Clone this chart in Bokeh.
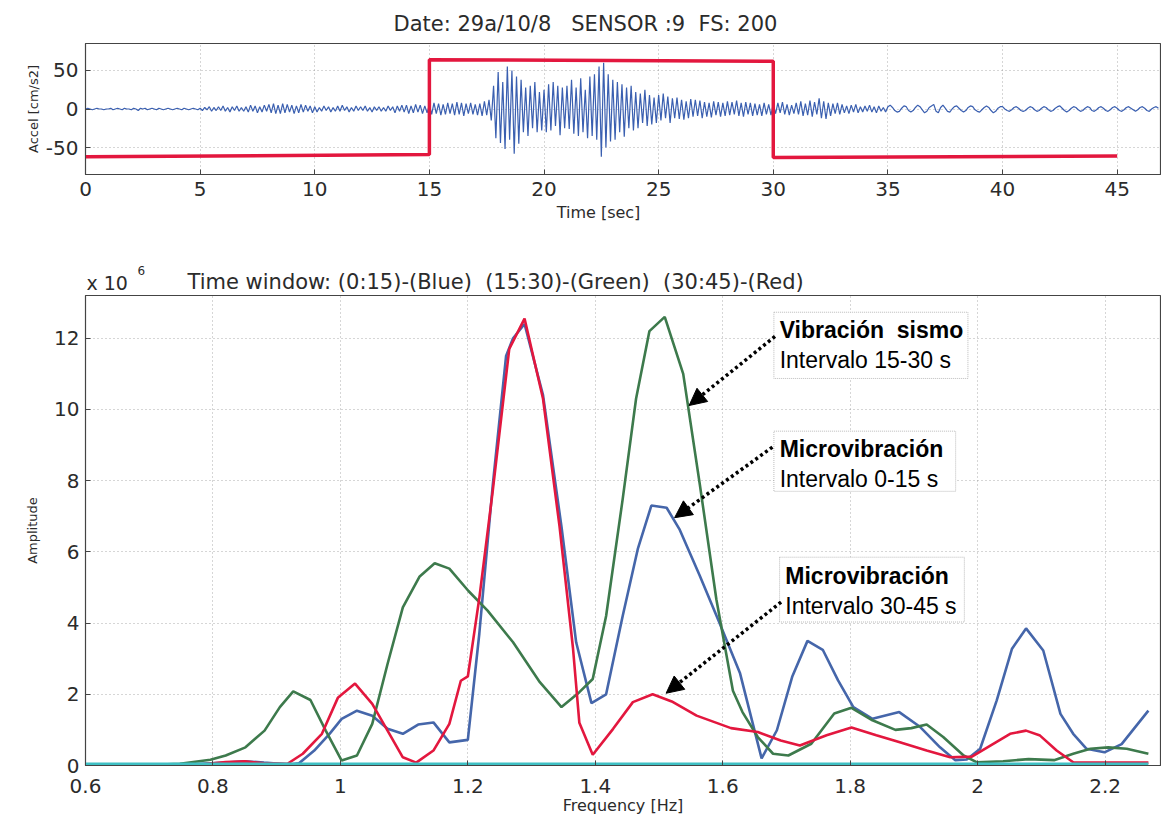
import numpy as np
from bokeh.plotting import figure
from bokeh.models import (Range1d, FixedTicker, Label, BoxAnnotation, Arrow, NormalHead)
from bokeh.layouts import column
from bokeh.embed import file_html
from bokeh.resources import INLINE

# ---------------- top panel: acceleration record (sampled every 0.1 s) ----------------
dt = 0.1
accel = [
    0, 1, 0, -1, 0, 1, 0, 0, -1, 0,
    0, 1, -1, 0, 1, 0, -1, 1, 0, 0,
    -1, 1, 0, -2, 1, 0, 1, -1, 0, 1,
    0, -1, 1, 0, -1, 0, 1, 0, -1, 0,
    1, 0, -1, 1, 0, -1, 0, 1, 0, -1,
    1, -2, 2, -1, 3, -3, 2, -2, 3, -2,
    4, -3, 2, -4, 3, -2, 4, -3, 2, -3,
    3, -4, 5, -3, 4, -5, 3, -4, 5, -3,
    6, -5, 7, -6, 5, -6, 7, -5, 6, -4,
    5, -6, 4, -5, 6, -4, 5, -3, 4, -5,
    3, -4, 2, -3, 4, -2, 3, -4, 2, -3,
    4, -3, 5, -2, 3, -4, 2, -3, 4, -2,
    3, -2, 4, -3, 2, -4, 3, -2, 3, -3,
    2, -3, 4, -2, 3, -5, 4, -3, 5, -4,
    5, -6, 4, -5, 6, -4, 5, -6, 4, -5,
    6, -7, 8, -6, 7, -8, 6, -7, 8, -6,
    7, -8, 9, -7, 8, -9, 7, -6, 8, -7,
    6, -8, 7, -9, 10, -8, 12, -15, 30, -38,
    48, -44, 35, -52, 55, -40, 50, -58, 42, -45,
    38, -30, 28, -35, 30, -25, 35, -30, 22, -28,
    25, -30, 32, -28, 35, -22, 30, -34, 28, -25,
    30, -26, 38, -32, 28, -35, 40, -30, 25, -38,
    42, -35, 45, -40, 55, -62, 60, -50, 45, -42,
    38, -40, 35, -30, 32, -36, 28, -25, 30, -28,
    22, -25, 20, -18, 25, -22, 18, -20, 15, -18,
    18, -15, 20, -12, 16, -18, 14, -12, 15, -13,
    12, -14, 10, -12, 13, -10, 12, -9, 11, -12,
    9, -10, 8, -11, 10, -8, 9, -10, 8, -9,
    10, -8, 9, -7, 11, -9, 8, -10, 9, -7,
    8, -9, 7, -8, 6, -9, 8, -7, 6, -8,
    7, -6, 8, -5, 9, -7, 6, -8, 5, -6,
    8, -7, 10, -9, 7, -8, 11, -10, 9, -7,
    14, -12, 10, -13, 8, -9, 7, -6, 8, -7,
    6, -5, 4, -6, 5, -4, 6, -5, 3, -4,
    4, -3, 5, -4, 3, -5, 4, -3, 2, -4,
    3, 5, 2, -2, -4, -3, 1, 4, 3, -2,
    -4, -2, 2, 5, 3, -1, -5, -3, 2, 4,
    6, -3, -5, 2, 5, 1, -3, -4, 0, 3,
    4, 1, -2, -4, -2, 2, 4, 3, -1, -3,
    -4, -1, 2, 4, 2, -2, -5, -3, 1, 3,
    3, 0, -2, -3, -1, 2, 3, 1, -2, -3,
    -2, 1, 3, 2, -1, -3, -2, 1, 3, 2,
    -1, -3, -2, 1, 3, 4, 1, -2, -4, -2,
    1, 3, 2, -1, -3, -2, 1, 3, 2, -2,
    -3, -1, 2, 3, 1, -2, -3, -1, 2, 3,
    1, -2, -3, -1, 2, 3, 1, -1, -3, -1,
    2, 3, 1, -2, -3, 0, 2, 3, 1,
]
time_s = np.arange(len(accel)) * dt

# time-window marker (red)
win_t = [0, 15, 15, 30, 30, 45]
win_v = [-62, -59, 64, 62, -63, -61]

time_ticks = [0, 5, 10, 15, 20, 25, 30, 35, 40, 45]
accel_ticks = [-50, 0, 50]
accel_labels = ["-50", "0", "50"]

# ---------------- bottom panel: amplitude spectra (x 10^6) ----------------
blue_f = [0.60, 0.75, 0.82, 0.85, 0.88, 0.92, 0.935, 0.959, 0.983, 1.002, 1.026, 1.05,
          1.074, 1.098, 1.122, 1.146, 1.171, 1.2, 1.218, 1.239, 1.26, 1.271, 1.289,
          1.318, 1.347, 1.37, 1.394, 1.417, 1.443, 1.467, 1.488, 1.512, 1.532, 1.564,
          1.595, 1.627, 1.661, 1.685, 1.709, 1.733, 1.757, 1.781, 1.805, 1.835, 1.877,
          1.91, 1.941, 1.965, 1.983, 2.004, 2.03, 2.054, 2.076, 2.103, 2.13, 2.15,
          2.171, 2.199, 2.226, 2.268]
blue_a = [0.02, 0.02, 0.08, 0.12, 0.08, 0.03, 0.06, 0.42, 0.89, 1.31, 1.54, 1.40,
          1.03, 0.89, 1.15, 1.21, 0.65, 0.72, 3.7, 7.85, 11.5, 12.0, 12.4,
          10.4, 6.7, 3.46, 1.75, 2.0, 4.2, 6.1, 7.3, 7.24, 6.64, 5.33,
          4.0, 2.6, 0.2, 0.99, 2.49, 3.5, 3.25, 2.39, 1.64, 1.31, 1.5,
          1.08, 0.51, 0.15, 0.17, 0.47, 1.83, 3.28, 3.85, 3.23, 1.45, 0.89,
          0.47, 0.37, 0.6, 1.54]

green_f = [0.60, 0.70, 0.748, 0.796, 0.82, 0.851, 0.881, 0.905, 0.926, 0.953, 0.977,
           1.002, 1.026, 1.05, 1.074, 1.098, 1.124, 1.148, 1.171, 1.201, 1.231, 1.271,
           1.313, 1.347, 1.375, 1.396, 1.417, 1.443, 1.464, 1.485, 1.509, 1.538, 1.564,
           1.59, 1.616, 1.631, 1.655, 1.679, 1.703, 1.739, 1.775, 1.802, 1.835, 1.871,
           1.896, 1.92, 1.946, 1.978, 1.999, 2.04, 2.08, 2.12, 2.15, 2.177, 2.205,
           2.234, 2.268]
green_a = [0.01, 0.01, 0.05, 0.16, 0.28, 0.51, 0.98, 1.64, 2.08, 1.84, 0.98,
           0.14, 0.28, 1.17, 2.85, 4.44, 5.3, 5.68, 5.53, 4.9, 4.35, 3.46,
           2.34, 1.64, 2.06, 2.43, 4.2, 7.48, 10.3, 12.2, 12.6, 11.0, 7.9,
           4.67, 2.1, 1.5, 0.8, 0.33, 0.28, 0.61, 1.46, 1.62, 1.27, 1.0,
           1.05, 1.15, 0.8, 0.28, 0.09, 0.12, 0.18, 0.15, 0.33, 0.47, 0.51,
           0.47, 0.33]

red_f = [0.60, 0.78, 0.82, 0.85, 0.88, 0.917, 0.941, 0.971, 0.996, 1.023, 1.05, 1.074,
         1.098, 1.119, 1.146, 1.171, 1.189, 1.2, 1.218, 1.239, 1.265, 1.289, 1.318,
         1.344, 1.365, 1.375, 1.396, 1.428, 1.459, 1.49, 1.52, 1.559, 1.613, 1.655,
         1.691, 1.721, 1.763, 1.802, 1.841, 1.878, 1.92, 1.957, 1.991, 2.02, 2.051,
         2.076, 2.098, 2.124, 2.15, 2.2, 2.268]
red_a = [0.01, 0.03, 0.1, 0.12, 0.06, 0.05, 0.33, 0.89, 1.9, 2.3, 1.73, 0.98,
         0.23, 0.08, 0.42, 1.17, 2.38, 2.5, 4.7, 7.7, 11.7, 12.55, 10.3,
         6.7, 3.3, 1.2, 0.3, 1.03, 1.78, 2.0, 1.8, 1.4, 1.05, 0.94,
         0.7, 0.56, 0.85, 1.07, 0.85, 0.65, 0.42, 0.23, 0.25, 0.56, 0.89,
         0.98, 0.84, 0.42, 0.09, 0.08, 0.08]

cyan_f = [0.60, 1.0, 1.4, 1.8, 2.268]
cyan_a = [0.04, 0.04, 0.04, 0.04, 0.04]

freq_ticks = [0.6, 0.8, 1, 1.2, 1.4, 1.6, 1.8, 2, 2.2]
freq_labels = ["0.6", "0.8", "1", "1.2", "1.4", "1.6", "1.8", "2", "2.2"]
amp_ticks = [0, 2, 4, 6, 8, 10, 12]

# ---------------- styling helpers ----------------
MFONT = "DejaVu Sans"
TXT = "#2b2b2b"
W = 1161
LB = 85      # common left border (column aligns frames)
RB = 1
NB = "\u00a0"


def style(p, xt, yt):
    p.background_fill_color = "white"
    p.border_fill_color = "white"
    p.outline_line_color = "#444444"
    p.outline_line_width = 1.2
    for ax in (p.xaxis[0], p.yaxis[0]):
        ax.major_tick_in = 5
        ax.major_tick_out = 0
        ax.minor_tick_line_color = None
        ax.axis_line_color = "#444444"
        ax.major_tick_line_color = "#444444"
        ax.major_label_text_font = MFONT
        ax.major_label_text_font_size = "20px"
        ax.major_label_text_color = TXT
        ax.axis_label_text_font = MFONT
        ax.axis_label_text_font_style = "normal"
        ax.axis_label_text_color = TXT
    p.xaxis[0].ticker = FixedTicker(ticks=xt)
    p.yaxis[0].ticker = FixedTicker(ticks=yt)
    p.grid.grid_line_color = "#8a8a8a"
    p.grid.grid_line_alpha = 0.7
    p.grid.grid_line_dash = "1 3"
    p.grid.grid_line_width = 1


def text_row(h):
    # x data == page pixel (frame spans LB .. W-RB)
    t = figure(width=W, height=h, output_backend="svg", toolbar_location=None,
               x_range=Range1d(LB, W - RB), y_range=Range1d(0, h),
               x_axis_type=None, y_axis_type=None,
               min_border_left=LB, min_border_right=RB, min_border_top=0,
               min_border_bottom=0)
    t.outline_line_color = None
    t.grid.visible = False
    t.background_fill_color = "white"
    t.border_fill_color = "white"
    return t


# ---------------- row 1: top title ----------------
row1 = text_row(41)
row1.add_layout(Label(x=393, y=18,
                      text="Date: 29a/10/8" + NB + NB + " SENSOR :9" + NB + " FS: 200",
                      text_align="left", text_baseline="middle",
                      text_font=MFONT, text_font_size="21px", text_color=TXT))

# ---------------- top figure ----------------
top = figure(width=W, height=160, output_backend="svg", toolbar_location=None,
             x_range=Range1d(0, 46.89), y_range=Range1d(-85, 85),
             min_border_left=LB, min_border_right=RB, min_border_top=2,
             min_border_bottom=27)
style(top, time_ticks, accel_ticks)
top.yaxis[0].major_label_overrides = {t: s for t, s in zip(accel_ticks, accel_labels)}
top.yaxis[0].axis_label = "Accel [cm/s2]"
top.yaxis[0].axis_label_text_font_size = "13px"
top.yaxis[0].axis_label_standoff = 2
top.yaxis[0].major_label_standoff = 7
top.xaxis[0].major_label_standoff = 7

top.line(time_s, accel, line_color="#3a5fb0", line_width=1.2)
top.line(win_t, win_v, line_color="#e3173e", line_width=3.5)

# ---------------- row 2: x-label of top panel + spectrum title ----------------
R2 = 92
row2 = text_row(R2)
row2.add_layout(Label(x=598, y=R2 - 11, text="Time [sec]",
                      text_align="center", text_baseline="middle",
                      text_font=MFONT, text_font_size="16px", text_color=TXT))
row2.add_layout(Label(x=86, y=11, text="x 10", text_align="left",
                      text_baseline="middle", text_font=MFONT,
                      text_font_size="19px", text_color=TXT))
row2.add_layout(Label(x=137, y=23, text="6", text_align="left",
                      text_baseline="middle", text_font=MFONT,
                      text_font_size="12px", text_color=TXT))
row2.add_layout(Label(x=187, y=12,
                      text="Time window: (0:15)-(Blue)" + NB + " (15:30)-(Green)" + NB
                           + " (30:45)-(Red)",
                      text_align="left", text_baseline="middle", text_font=MFONT,
                      text_font_size="21px", text_color=TXT))

# ---------------- bottom figure ----------------
bot = figure(width=W, height=525, output_backend="svg", toolbar_location=None,
             x_range=Range1d(0.6, 2.287), y_range=Range1d(0, 13.2),
             min_border_left=LB, min_border_right=RB, min_border_top=2,
             min_border_bottom=53)
style(bot, freq_ticks, amp_ticks)
bot.xaxis[0].major_label_overrides = {t: s for t, s in zip(freq_ticks, freq_labels)}
bot.xaxis[0].axis_label = "Frequency [Hz]"
bot.xaxis[0].axis_label_text_font_size = "16px"
bot.xaxis[0].major_label_standoff = 13
bot.xaxis[0].axis_label_standoff = 0
bot.yaxis[0].axis_label = "Amplitude"
bot.yaxis[0].axis_label_text_font_size = "13px"
bot.yaxis[0].axis_label_standoff = 11
bot.yaxis[0].major_label_standoff = 6

bot.line(blue_f, blue_a, line_color="#4566aa", line_width=2.6)
bot.line(green_f, green_a, line_color="#3d7a4c", line_width=2.6)
bot.line(red_f, red_a, line_color="#e3173e", line_width=2.6)
bot.line(cyan_f, cyan_a, line_color="#3fc0c4", line_width=3)

# annotation boxes
boxes = [
    (1.6803, 1.9848, 12.73, 10.87, "Vibración" + NB + " sismo", "Intervalo 15-30 s",
     12.22, 11.40),
    (1.6803, 1.9655, 9.39, 7.70, "Microvibración", "Intervalo 0-15 s", 8.88, 8.06),
    (1.6892, 1.9792, 5.85, 4.03, "Microvibración", "Intervalo 30-45 s", 5.31, 4.49),
]
for (l, r, t, b, s1, s2, y1, y2) in boxes:
    bot.add_layout(BoxAnnotation(left=l, right=r, top=t, bottom=b, fill_color="white",
                                 fill_alpha=1.0, line_color="#222222", line_width=1,
                                 line_dash="1 1", level="overlay"))
    bot.add_layout(Label(x=l + 0.009, y=y1, text=s1, text_align="left",
                         text_baseline="middle", text_font="Liberation Sans",
                         text_font_style="bold", text_font_size="23px",
                         text_color="black", level="overlay"))
    bot.add_layout(Label(x=l + 0.009, y=y2, text=s2, text_align="left",
                         text_baseline="middle", text_font="Liberation Sans",
                         text_font_size="23px", text_color="black", level="overlay"))

arrows = [
    (1.682, 12.05, 1.5472, 10.11),
    (1.678, 8.94, 1.5245, 6.96),
    (1.6916, 4.59, 1.5112, 2.03),
]
for (xs, ys, xe, ye) in arrows:
    bot.add_layout(Arrow(x_start=xs, y_start=ys, x_end=xe, y_end=ye,
                         line_color="black", line_width=3.5, line_dash="3 3",
                         end=NormalHead(size=17, fill_color="black", line_color="black"),
                         level="overlay"))

layout = column(row1, top, row2, bot)
open("out.html", "w").write(file_html(layout, INLINE))
